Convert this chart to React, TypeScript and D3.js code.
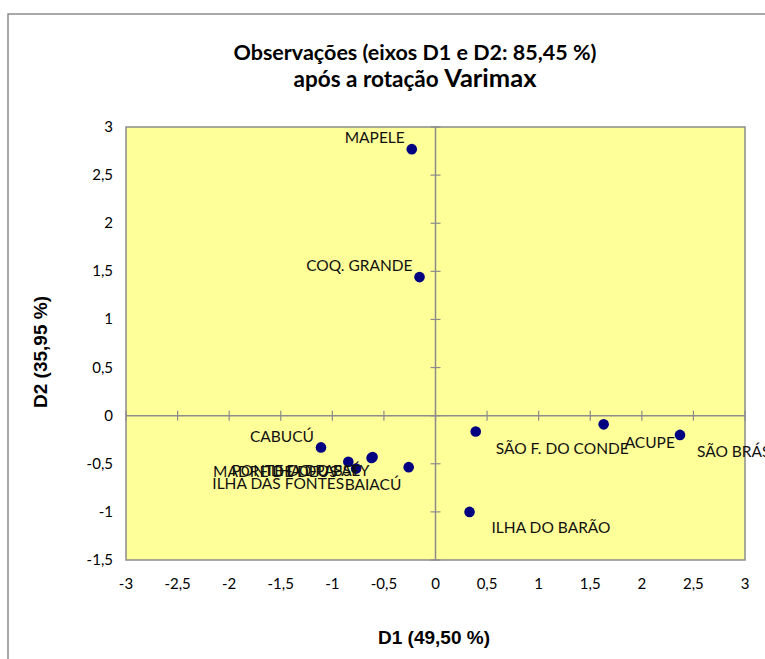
import React from 'react';
import * as d3 from 'd3';

// observations after Varimax rotation (D1, D2)
const names = [
  'MAPELE', 'COQ. GRANDE', 'SÃO F. DO CONDE', 'ACUPE', 'SÃO BRÁS', 'ILHA DO BARÃO',
  'CABUCÚ', 'ILHA DAS FONTES', 'MADRE DE DEUS', 'PONTE DO PASSÉ', 'ILHA DO PATY', 'BAIACÚ',
];
const d1 = [-0.23, -0.155, 0.39, 1.63, 2.37, 0.33, -1.11, -0.845, -0.77, -0.61, -0.62, -0.26];
const d2 = [2.77, 1.44, -0.165, -0.09, -0.2, -1.0, -0.33, -0.48, -0.55, -0.43, -0.44, -0.535];

const xTicks = [-3, -2.5, -2, -1.5, -1, -0.5, 0, 0.5, 1, 1.5, 2, 2.5, 3];
const yTicks = [-1.5, -1, -0.5, 0, 0.5, 1, 1.5, 2, 2.5, 3];

// label placement relative to the point (anchor, dx, dy to text centre)
const labelPos: Record<string, [string, number, number]> = {
  'MAPELE': ['end', -7, -12],
  'COQ. GRANDE': ['end', -7, -12],
  'SÃO F. DO CONDE': ['start', 20, 17],
  'ACUPE': ['start', 21, 18],
  'SÃO BRÁS': ['start', 17, 17],
  'ILHA DO BARÃO': ['start', 22, 16],
  'CABUCÚ': ['end', -7, -11],
  'ILHA DAS FONTES': ['start', -136, 22],
  'MADRE DE DEUS': ['start', -143, 3],
  'PONTE DO PASSÉ': ['start', -141, 13],
  'ILHA DO PATY': ['start', -105, 12],
  'BAIACÚ': ['start', -64, 17],
};

const fmt = (v: number) => String(v).replace('.', ',');

export default function App() {
  const x = d3.scaleLinear().domain([-3, 3]).range([126, 745]);
  const y = d3.scaleLinear().domain([-1.5, 3]).range([560, 127]);
  const grey = '#8c8c8c';
  const font = 'Lato, "Open Sans", sans-serif';

  return (
    <svg width={765} height={659} style={{ position: 'fixed', left: 0, top: 0, background: '#fff' }}>
      <rect x={8} y={14} width={900} height={800} fill="#fff" stroke={grey} strokeWidth={1.5} />
      <text x={415} y={60} textAnchor="middle" fontFamily={font} fontWeight="bold" fontSize={21.5} fill="#000">
        Observações (eixos D1 e D2: 85,45 %)
      </text>
      <text x={415} y={87} textAnchor="middle" fontFamily={font} fontWeight="bold" fontSize={22.5} fill="#000">
        após a rotação <tspan fontSize={25.5}>Varimax</tspan>
      </text>

      <rect x={x(-3)} y={y(3)} width={x(3) - x(-3)} height={y(-1.5) - y(3)} fill="#ffff99" stroke={grey} strokeWidth={1.5} />

      {/* cross axes */}
      <line x1={x(-3)} x2={x(3)} y1={y(0)} y2={y(0)} stroke={grey} strokeWidth={1.5} />
      <line x1={x(0)} x2={x(0)} y1={y(3)} y2={y(-1.5)} stroke={grey} strokeWidth={1.5} />
      {xTicks.map(t => (
        <line key={'xt' + t} x1={x(t)} x2={x(t)} y1={y(0) - 5} y2={y(0) + 5} stroke={grey} strokeWidth={1.2} />
      ))}
      {yTicks.map(t => (
        <line key={'yt' + t} x1={x(0) - 5} x2={x(0) + 5} y1={y(t)} y2={y(t)} stroke={grey} strokeWidth={1.2} />
      ))}

      {xTicks.map(t => (
        <text key={'xl' + t} x={x(t)} y={589} textAnchor="middle" fontFamily={font} fontSize={15} fill="#000">
          {fmt(t)}
        </text>
      ))}
      {yTicks.map(t => (
        <text key={'yl' + t} x={113} y={y(t) + 5} textAnchor="end" fontFamily={font} fontSize={15} fill="#000">
          {fmt(t)}
        </text>
      ))}

      {names.map((n, i) => (
        <circle key={'p' + n} cx={x(d1[i])} cy={y(d2[i])} r={5.3} fill="#000080" />
      ))}
      {names.map((n, i) => {
        const [anchor, dx, dy] = labelPos[n];
        return (
          <text key={'l' + n} x={x(d1[i]) + dx} y={y(d2[i]) + dy + 5.5} textAnchor={anchor as any}
            fontFamily={font} fontSize={15.5} fill="#111">
            {n}
          </text>
        );
      })}

      <text x={434} y={644} textAnchor="middle" fontFamily='"Liberation Sans", Arial, sans-serif' fontWeight="bold" fontSize={19} fill="#000">
        D1 (49,50 %)
      </text>
      <text transform="translate(47,352) rotate(-90)" textAnchor="middle" fontFamily='"Liberation Sans", Arial, sans-serif' fontWeight="bold" fontSize={19} fill="#000">
        D2 (35,95 %)
      </text>
    </svg>
  );
}
